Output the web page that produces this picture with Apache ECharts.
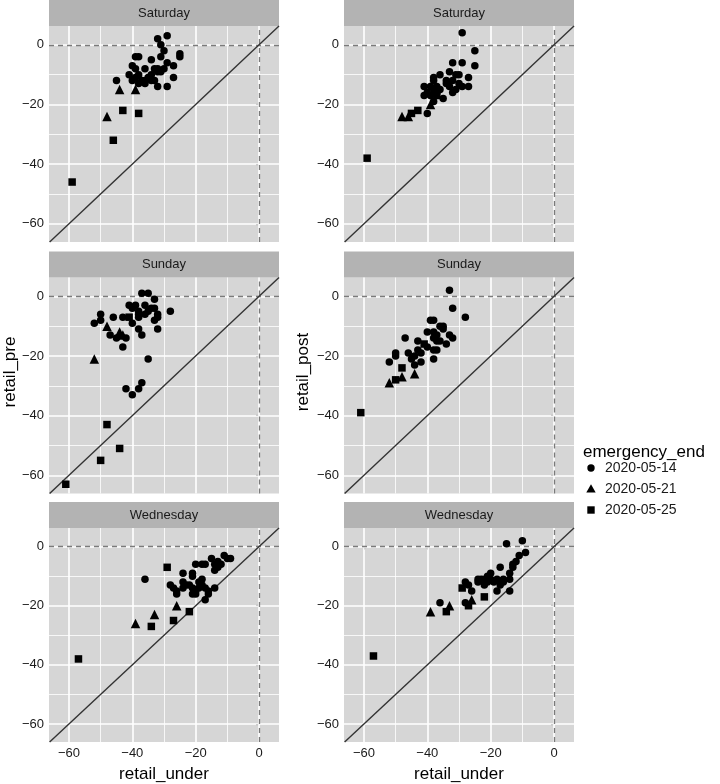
<!DOCTYPE html>
<html><head><meta charset="utf-8">
<script src="https://cdn.jsdelivr.net/npm/echarts@6/dist/echarts.min.js"></script>
<style>html,body{margin:0;padding:0;background:#fff}#c{width:720px;height:784px}</style>
</head><body><div id="c"></div>
<script>
// ---- data ----
const days = ['Saturday', 'Sunday', 'Wednesday'];
const yVars = ['retail_pre', 'retail_post'];
const groups = ['2020-05-14', '2020-05-21', '2020-05-25'];
const xTicks = [-60, -40, -20, 0];
const yTicks = [-60, -40, -20, 0];
const minorTicks = [-50, -30, -10];

// Saturday / retail_pre
const satPre14 = [[-32,2],[-29,3],[-31,0],[-30,-2],[-25,-3],[-25,-4],[-31,-4],[-34,-5],[-39,-4],[-38,-4],[-29,-6],[-27,-7],[-40,-7],[-39,-8],[-36,-8],[-33,-8],[-32,-8],[-30,-8],[-31,-9],[-41,-10],[-38,-10],[-32,-9],[-34,-10],[-39,-11],[-40,-12],[-37,-12],[-35,-11],[-33,-12],[-27,-11],[-45,-12],[-38,-13],[-36,-13],[-32,-14],[-29,-14],[-36,-12],[-34,-12]];
const satPre21 = [[-44,-15],[-39,-15],[-48,-24]];
const satPre25 = [[-43,-22],[-38,-23],[-46,-32],[-59,-46]];
// Saturday / retail_post
const satPost14 = [[-29,4],[-25,-2],[-25,-7],[-32,-6],[-29,-6],[-33,-9],[-31,-10],[-30,-10],[-27,-11],[-36,-10],[-38,-11],[-38,-12],[-34,-12],[-32,-12],[-34,-13],[-30,-13],[-33,-14],[-29,-14],[-27,-14],[-41,-14],[-39,-14],[-37,-14],[-36,-15],[-38,-15],[-37,-16],[-32,-16],[-31,-15],[-41,-17],[-39,-17],[-35,-18],[-38,-19],[-40,-23],[-40,-16]];
const satPost21 = [[-48,-24],[-46,-24],[-39,-20]];
const satPost25 = [[-45,-23],[-43,-22],[-59,-38],[-37,-17]];
// Sunday / retail_pre
const sunPre14 = [[-37,1],[-35,1],[-33,-1],[-28,-5],[-36,-3],[-41,-3],[-39,-3],[-40,-4],[-34,-4],[-33,-4],[-38,-5],[-38,-6],[-35,-5],[-36,-6],[-38,-7],[-32,-7],[-33,-8],[-50,-6],[-50,-8],[-52,-9],[-46,-7],[-43,-7],[-40,-9],[-47,-13],[-45,-14],[-42,-14],[-43,-17],[-38,-11],[-37,-13],[-32,-11],[-35,-21],[-42,-31],[-40,-33],[-38,-31],[-37,-29],[-32,-6]];
const sunPre21 = [[-48,-10],[-44,-12],[-43,-13],[-52,-21]];
const sunPre25 = [[-41,-7],[-48,-43],[-44,-51],[-50,-55],[-61,-63]];
// Sunday / retail_post
const sunPost14 = [[-33,2],[-32,-4],[-28,-7],[-39,-8],[-38,-8],[-36,-10],[-35,-10],[-35,-11],[-38,-12],[-40,-12],[-33,-13],[-32,-14],[-37,-13],[-38,-14],[-37,-15],[-36,-15],[-34,-16],[-47,-14],[-43,-15],[-40,-17],[-38,-18],[-37,-18],[-43,-18],[-42,-19],[-46,-19],[-50,-19],[-50,-20],[-44,-20],[-45,-21],[-38,-21],[-42,-22],[-52,-22],[-44,-23]];
const sunPost21 = [[-52,-29],[-48,-27],[-44,-26]];
const sunPost25 = [[-48,-24],[-50,-28],[-41,-16],[-61,-39]];
// Wednesday / retail_pre
const wedPre14 = [[-11,-3],[-10,-4],[-9,-4],[-15,-4],[-20,-6],[-18,-6],[-17,-6],[-14,-6],[-13,-5],[-12,-6],[-14,-8],[-13,-7],[-24,-9],[-21,-9],[-21,-10],[-18,-11],[-19,-12],[-24,-12],[-23,-13],[-28,-13],[-27,-14],[-22,-13],[-21,-14],[-18,-13],[-19,-14],[-24,-14],[-26,-15],[-26,-16],[-21,-16],[-20,-15],[-17,-14],[-16,-15],[-14,-14],[-16,-16],[-17,-18],[-36,-11],[-20,-16]];
const wedPre21 = [[-26,-20],[-33,-23],[-39,-26]];
const wedPre25 = [[-29,-7],[-22,-22],[-27,-25],[-34,-27],[-57,-38]];
// Wednesday / retail_post
const wedPost14 = [[-15,1],[-10,2],[-9,-2],[-11,-3],[-12,-5],[-13,-6],[-13,-7],[-17,-7],[-14,-9],[-14,-11],[-20,-9],[-21,-10],[-24,-11],[-23,-11],[-22,-11],[-20,-11],[-18,-11],[-16,-11],[-22,-13],[-21,-12],[-19,-12],[-17,-13],[-16,-12],[-28,-12],[-27,-13],[-26,-15],[-18,-15],[-14,-15],[-24,-12],[-36,-19],[-28,-19]];
const wedPost21 = [[-39,-22],[-33,-20],[-26,-18]];
const wedPost25 = [[-29,-14],[-34,-22],[-27,-20],[-22,-17],[-57,-37]];

const panelData = [
  [[satPre14, satPre21, satPre25], [satPost14, satPost21, satPost25]],
  [[sunPre14, sunPre21, sunPre25], [sunPost14, sunPost21, sunPost25]],
  [[wedPre14, wedPre21, wedPre25], [wedPost14, wedPost21, wedPost25]]
];

// ---- layout / style ----
const X_MIN = -66.3, X_MAX = 6.3, Y_MIN = -66.1, Y_MAX = 6.3;
const colLeft = [49, 344], panelW = 230;
const rowTop = [26, 277.5, 528], panelH = 216, stripH = 26;
const symbols = ['circle', 'triangle', 'rect'];
const symSizes = [7.5, 9.5, 7.5];
const FONT = 'Liberation Sans, Arial, Helvetica, sans-serif';

const grids = [], xAxes = [], yAxes = [], series = [], graphics = [];
let gi = 0;
for (let r = 0; r < 3; r++) {
  for (let c = 0; c < 2; c++) {
    grids.push({left: colLeft[c], top: rowTop[r], width: panelW, height: panelH,
      show: true, backgroundColor: '#D6D6D6', borderWidth: 0, containLabel: false});
    const bottomRow = r === 2;
    xAxes.push({type: 'value', gridIndex: gi, min: X_MIN, max: X_MAX,
      axisLine: {show: false}, splitLine: {show: false},
      axisTick: {show: bottomRow, customValues: xTicks, length: 3, lineStyle: {color: '#333', width: 1.1}},
      axisLabel: {show: bottomRow, customValues: xTicks, color: '#1a1a1a', fontSize: 13, fontFamily: FONT, margin: 5,
        formatter: v => String(v).replace('-', '\u2212')},
      name: bottomRow ? 'retail_under' : '', nameLocation: 'middle', nameGap: 24,
      nameTextStyle: {fontSize: 17, color: '#000', fontFamily: FONT}});
    yAxes.push({type: 'value', gridIndex: gi, min: Y_MIN, max: Y_MAX,
      axisLine: {show: false}, splitLine: {show: false},
      axisTick: {show: true, customValues: yTicks, length: 3, lineStyle: {color: '#333', width: 1.1}},
      axisLabel: {show: true, customValues: yTicks, color: '#1a1a1a', fontSize: 13, fontFamily: FONT, margin: 5,
        formatter: v => String(v).replace('-', '\u2212')}});
    // gridlines
    const ml = [];
    minorTicks.forEach(v => { ml.push({xAxis: v, lineStyle: {color: '#fff', width: 0.8, type: 'solid'}});
                              ml.push({yAxis: v, lineStyle: {color: '#fff', width: 0.8, type: 'solid'}}); });
    xTicks.forEach(v => ml.push({xAxis: v, lineStyle: {color: '#fff', width: 1.6, type: 'solid'}}));
    yTicks.forEach(v => ml.push({yAxis: v, lineStyle: {color: '#fff', width: 1.6, type: 'solid'}}));
    series.push({type: 'scatter', xAxisIndex: gi, yAxisIndex: gi, data: [], z: 1, silent: true,
      markLine: {silent: true, symbol: 'none', label: {show: false}, animation: false, data: ml}});
    // dashed zero lines and diagonal y = x
    const lo = Math.max(X_MIN, Y_MIN), hi = Math.min(X_MAX, Y_MAX);
    series.push({type: 'scatter', xAxisIndex: gi, yAxisIndex: gi, data: [], z: 2, silent: true,
      markLine: {silent: true, symbol: 'none', label: {show: false}, animation: false, data: [
        {xAxis: 0, lineStyle: {color: '#7a7a7a', width: 1.3, type: [5, 4]}},
        {yAxis: 0, lineStyle: {color: '#7a7a7a', width: 1.3, type: [5, 4]}},
        [{coord: [lo, lo], lineStyle: {color: '#333', width: 1.4, type: 'solid'}}, {coord: [hi, hi]}]
      ]}});
    panelData[r][c].forEach((d, k) => {
      series.push({type: 'scatter', name: groups[k], xAxisIndex: gi, yAxisIndex: gi, data: d, z: 5,
        symbol: symbols[k], symbolSize: symSizes[k], itemStyle: {color: '#000', opacity: 1}, animation: false});
    });
    // strip
    graphics.push({type: 'rect', shape: {x: colLeft[c], y: rowTop[r] - stripH, width: panelW, height: stripH},
      style: {fill: '#B3B3B3'}, silent: true});
    graphics.push({type: 'text', x: colLeft[c] + panelW / 2, y: rowTop[r] - stripH / 2,
      style: {text: days[r], fill: '#1a1a1a', fontSize: 13, fontFamily: FONT, align: 'center', verticalAlign: 'middle'}});
    gi++;
  }
}
// y-axis titles
const midY = (rowTop[0] - stripH + rowTop[2] + panelH) / 2;
[[10, yVars[0]], [303, yVars[1]]].forEach(([x, t]) => graphics.push({type: 'text', x: x, y: midY, rotation: Math.PI / 2,
  style: {text: t, fill: '#000', fontSize: 17, fontFamily: FONT, align: 'center', verticalAlign: 'middle'}}));
// legend
graphics.push({type: 'text', x: 583, y: 452, style: {text: 'emergency_end', fill: '#000', fontSize: 17, fontFamily: FONT, verticalAlign: 'middle'}});

const legendY = [468, 489, 510];
const legendShapes = [
  {type: 'circle', shape: {cx: 591, cy: legendY[0], r: 3.7}},
  {type: 'polygon', shape: {points: [[591, legendY[1] - 4.7], [595.7, legendY[1] + 3.6], [586.3, legendY[1] + 3.6]]}},
  {type: 'rect', shape: {x: 587.3, y: legendY[2] - 3.7, width: 7.4, height: 7.4}}
];
legendShapes.forEach((s, k) => {
  graphics.push(Object.assign({style: {fill: '#000'}}, s));
  graphics.push({type: 'text', x: 605, y: legendY[k], style: {text: groups[k], fill: '#1a1a1a', fontSize: 14, fontFamily: FONT, verticalAlign: 'middle'}});
});

const chart = echarts.init(document.getElementById('c'), null, {renderer: 'canvas'});
chart.setOption({animation: false, grid: grids, xAxis: xAxes, yAxis: yAxes, series: series, graphic: graphics});
</script></body></html>
